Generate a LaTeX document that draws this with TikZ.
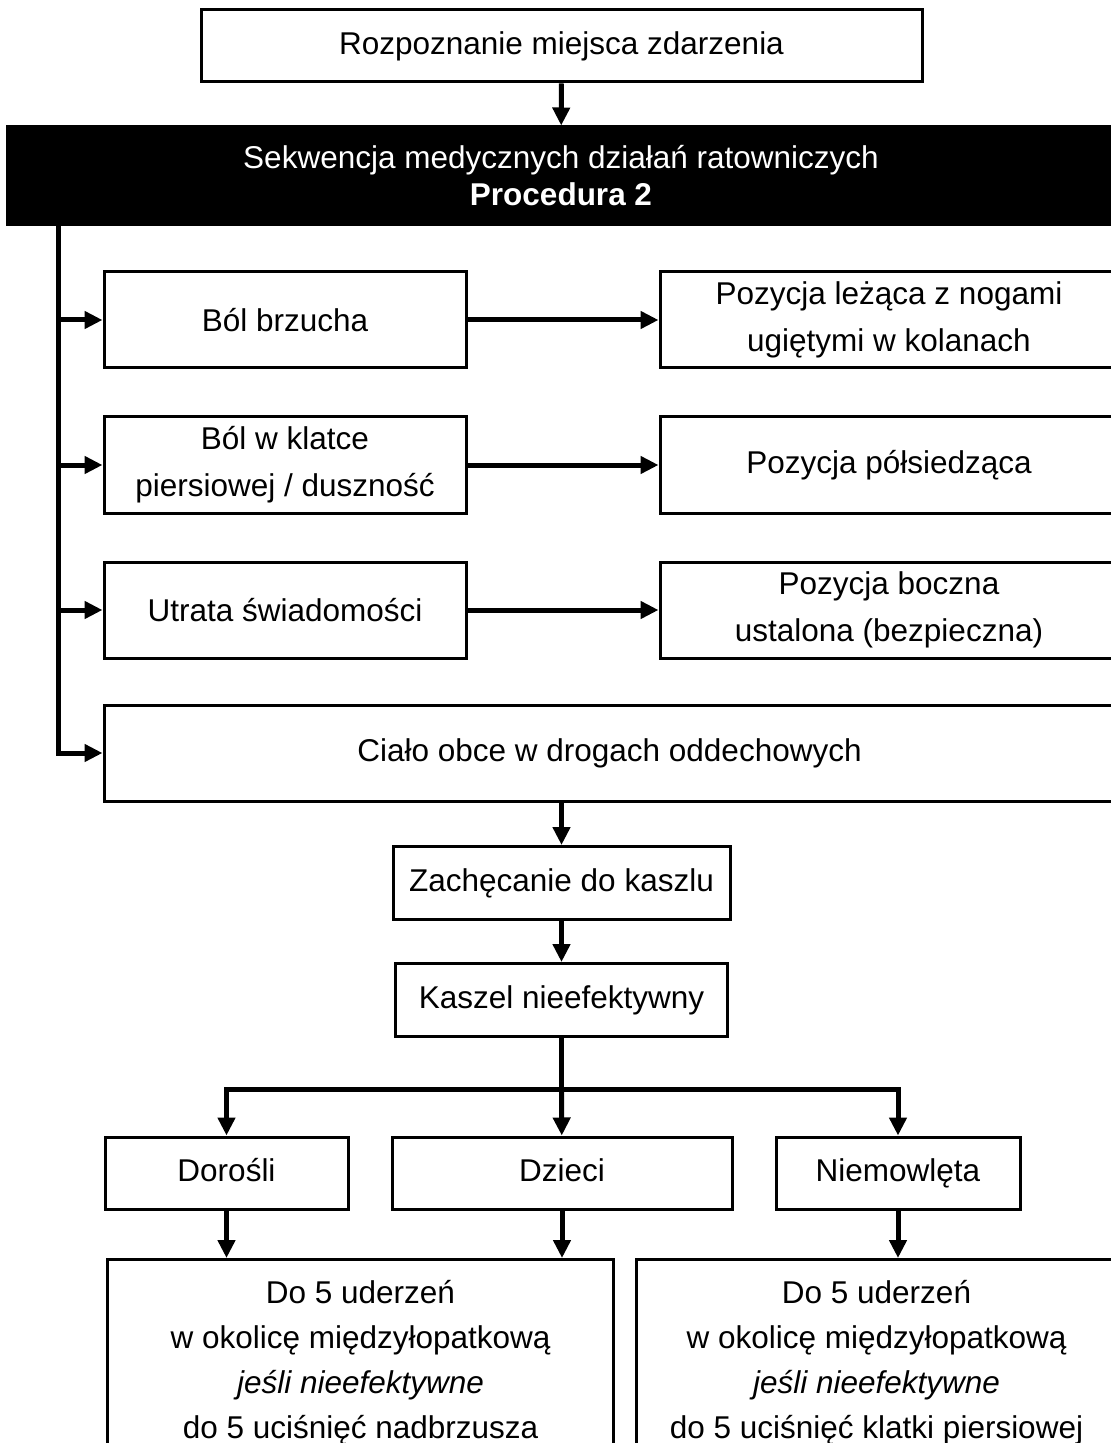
\documentclass[tikz,border=0pt]{standalone}
\usepackage{fontspec}
\setmainfont{Liberation Sans}
\usetikzlibrary{positioning, arrows.meta}
\tikzset{
->, % every connector is directed
>={Triangle[length=9pt, width=8.5pt]}, % filled triangular heads
x=0.5pt, y=-0.5pt, % one unit is one pixel of the layout
box/.style={draw, line width=1.5pt, fill=white, align=center, inner sep=0pt,
  font=\fontsize{15.75}{23.5}\selectfont},
leftbox/.style={box, minimum width=181pt, minimum height=48pt},
rightbox/.style={box, minimum width=229pt, minimum height=48pt},
smallbox/.style={box, minimum height=36.5pt, text height=11.5pt, text depth=3.5pt},
longbox/.style={box, anchor=north west, inner ysep=10.5pt, font=\fontsize{15.75}{22.5}\selectfont},
}

\begin{document}
\begin{tikzpicture}[line width=2.5pt]
\useasboundingbox (0,0) rectangle (1110,1443);

\node[box, minimum width=360.5pt, minimum height=36pt] (rozp) at (561.5,46) {Rozpoznanie miejsca zdarzenia};
\node[box, fill=black, text=white, minimum width=554pt, minimum height=49pt,
  font=\fontsize{15.75}{18.5}\selectfont] (sek) at (561,176) {Sekwencja medycznych działań ratowniczych\\\textbf{Procedura 2}};

\node[leftbox] (brzuch) at (285,320) {Ból brzucha};
\node[leftbox] (klatka) at (285,465) {Ból w klatce\\piersiowej / duszność};
\node[leftbox] (utrata) at (285,610) {Utrata świadomości};
\node[rightbox, right=95.5pt of brzuch] (lezaca) {Pozycja leżąca z nogami\\ugiętymi w kolanach};
\node[rightbox, right=95.5pt of klatka] (polsied) {Pozycja półsiedząca};
\node[rightbox, right=95.5pt of utrata] (boczna) {Pozycja boczna\\ustalona (bezpieczna)};
\node[box, minimum width=505.5pt, minimum height=48pt] (cialo) at (609.5,753) {Ciało obce w drogach oddechowych};

\node[smallbox, minimum width=168.5pt] (kaszel) at (561.5,883) {Zachęcanie do kaszlu};
\node[smallbox, minimum width=166pt] (nieef) at (561.5,1000) {Kaszel nieefektywny};
\coordinate (rozdz) at (561.5,1089);

\node[smallbox, minimum width=121.5pt, minimum height=36pt] (dorosli) at (226.5,1173) {Dorośli};
\node[smallbox, minimum width=170pt, minimum height=36pt] (dzieci) at (562,1173) {Dzieci};
\node[smallbox, minimum width=122pt, minimum height=36pt] (niem) at (898,1173) {Niemowlęta};

\node[longbox, minimum width=253pt] (lewy) at (106,1258)
  {Do 5 uderzeń\\w okolicę międzyłopatkową\\\textit{jeśli nieefektywne}\\do 5 uciśnięć nadbrzusza\\[4pt]};
\node[longbox, minimum width=240pt] (prawy) at (635,1258)
  {Do 5 uderzeń\\w okolicę międzyłopatkową\\\textit{jeśli nieefektywne}\\do 5 uciśnięć klatki piersiowej\\[4pt]};

\draw (rozp) -- (sek);
\coordinate (pien) at (58,224);
\draw (pien) |- (brzuch);
\draw (pien) |- (klatka);
\draw (pien) |- (utrata);
\draw (pien) |- (cialo);
\draw (brzuch) -- (lezaca);
\draw (klatka) -- (polsied);
\draw (utrata) -- (boczna);
\draw (cialo.south -| kaszel) -- (kaszel);
\draw (kaszel) -- (nieef);
\draw[-] (nieef) -- (rozdz);
\draw (rozdz) -| (dorosli);
\draw (rozdz) -- (dzieci);
\draw (rozdz) -| (niem);
\draw (dorosli.south) -- (dorosli.south |- lewy.north);
\draw (dzieci.south) -- (dzieci.south |- lewy.north);
\draw (niem.south) -- (niem.south |- prawy.north);

\end{tikzpicture}
\end{document}
